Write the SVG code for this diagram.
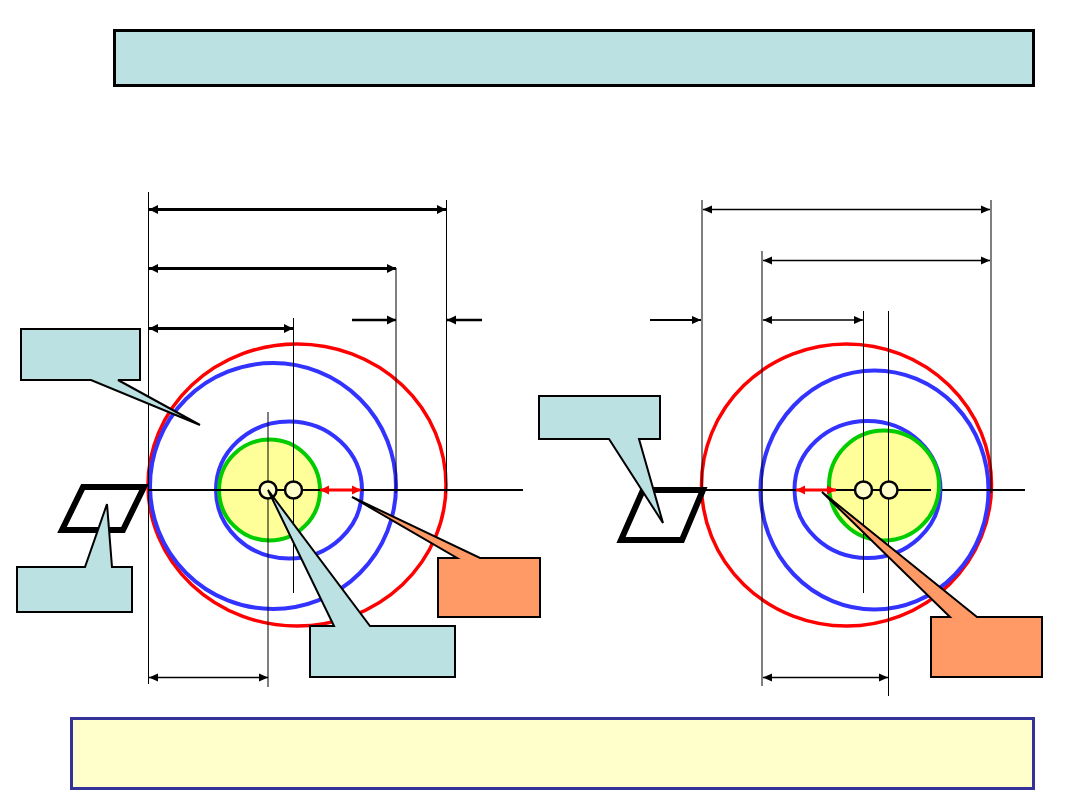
<svg xmlns="http://www.w3.org/2000/svg" width="1080" height="810" viewBox="0 0 1080 810">
<style>
.thin{stroke:#000;stroke-width:1;fill:none}
.dimT{stroke:#000;stroke-width:3;fill:none;marker-start:url(#ahT);marker-end:url(#ahT)}
.dimN{stroke:#000;stroke-width:1.5;fill:none;marker-start:url(#ahN);marker-end:url(#ahN)}
.axis{stroke:#000;stroke-width:2;fill:none}
.red{stroke:#FF0000;stroke-width:3.5;fill:none}
.blue{stroke:#3333FF;stroke-width:4;fill:none}
.core{stroke:#00CC00;stroke-width:4;fill:#FFFF99}
.hole{stroke:#000;stroke-width:2.5;fill:#FFFFCC}
.par{stroke:#000;stroke-width:6;fill:#FFFFFF;stroke-linejoin:miter}
.cb{stroke:#000;stroke-width:2;fill:#BCE1E2;stroke-linejoin:miter}
.co{stroke:#000;stroke-width:2;fill:#FF9966;stroke-linejoin:miter}
.gap{stroke:#FF0000;stroke-width:3;fill:none;marker-start:url(#ahR);marker-end:url(#ahR)}
</style>
<defs>
<marker id="ahT" markerUnits="userSpaceOnUse" markerWidth="10" markerHeight="10" refX="9" refY="5" orient="auto-start-reverse"><path d="M0,0.5 L9,5 L0,9.5 Z" fill="#000"/></marker>
<marker id="ahN" markerUnits="userSpaceOnUse" markerWidth="10" markerHeight="10" refX="9" refY="5" orient="auto-start-reverse"><path d="M0,1 L9,5 L0,9 Z" fill="#000"/></marker>
<marker id="ahR" markerUnits="userSpaceOnUse" markerWidth="10" markerHeight="10" refX="9" refY="5" orient="auto-start-reverse"><path d="M0,0.5 L9,5 L0,9.5 Z" fill="#FF0000"/></marker>
</defs>
<rect width="1080" height="810" fill="#FFFFFF"/>

<g id="title"><rect x="114.5" y="30.5" width="919" height="55" fill="#BCE1E2" stroke="#000" stroke-width="3"/></g>
<g id="footer"><rect x="71.5" y="718.5" width="962" height="70" fill="#FFFFCC" stroke="#333399" stroke-width="3"/></g>

<g id="left-rings">
<ellipse class="red" cx="297" cy="485" rx="149" ry="141"/>
<ellipse class="blue" cx="273" cy="486" rx="123" ry="123"/>
<ellipse class="blue" cx="289" cy="490" rx="73" ry="68.5"/>
<circle class="core" cx="269.5" cy="490" r="50.5"/>
</g>
<g id="right-rings">
<ellipse class="red" cx="846.5" cy="485" rx="145" ry="141"/>
<ellipse class="blue" cx="874.5" cy="490" rx="114" ry="119.5"/>
<ellipse class="blue" cx="867.5" cy="489.5" rx="73" ry="68.5"/>
<circle class="core" cx="884" cy="485.5" r="55"/>
</g>

<g id="connectors">
<line class="thin" x1="148.5" y1="192" x2="148.5" y2="684"/>
<line class="thin" x1="446.5" y1="200" x2="446.5" y2="493"/>
<line class="thin" x1="396" y1="268" x2="396" y2="493"/>
<line class="thin" x1="293.5" y1="318" x2="293.5" y2="593"/>
<line class="thin" x1="268" y1="412" x2="268" y2="687"/>
<line class="axis" x1="148" y1="490" x2="523" y2="490"/>
<line class="dimT" x1="149" y1="209.5" x2="446" y2="209.5"/>
<line class="dimT" x1="149" y1="268.5" x2="396" y2="268.5"/>
<line class="dimT" x1="149" y1="328.5" x2="293" y2="328.5"/>
<line stroke="#000" stroke-width="2.5" x1="352" y1="320" x2="396" y2="320" marker-end="url(#ahT)"/>
<line stroke="#000" stroke-width="2.5" x1="482" y1="320" x2="447" y2="320" marker-end="url(#ahT)"/>
<line class="dimN" x1="149" y1="677.5" x2="268" y2="677.5"/>
<line class="gap" x1="320" y1="490" x2="361" y2="490"/>

<line class="thin" x1="702" y1="200" x2="702" y2="493"/>
<line class="thin" x1="991" y1="200" x2="991" y2="493"/>
<line class="thin" x1="762" y1="251" x2="762" y2="686"/>
<line class="thin" x1="863.5" y1="311" x2="863.5" y2="593"/>
<line class="thin" x1="888.5" y1="311" x2="888.5" y2="696"/>
<line class="axis" x1="702" y1="490" x2="931" y2="490"/>
<line class="axis" x1="942" y1="490" x2="1025" y2="490"/>
<line class="dimN" x1="703" y1="209.5" x2="990" y2="209.5"/>
<line class="dimN" x1="763" y1="260.5" x2="990" y2="260.5"/>
<line class="dimN" x1="763" y1="320" x2="863" y2="320"/>
<line stroke="#000" stroke-width="2" x1="650" y1="320" x2="701" y2="320" marker-end="url(#ahN)"/>
<line class="dimN" x1="763" y1="677.5" x2="888" y2="677.5"/>
<line class="gap" x1="796" y1="490" x2="836" y2="490"/>
</g>

<g id="left-holes">
<circle class="hole" cx="268" cy="490" r="8.5"/>
<circle class="hole" cx="293.5" cy="490" r="8.5"/>
</g>
<g id="right-holes">
<circle class="hole" cx="863.5" cy="490" r="8.5"/>
<circle class="hole" cx="889" cy="490" r="8.5"/>
</g>

<g id="left-frame"><polygon class="par" points="83,487 144,487 123,530 62,530"/></g>
<g id="right-frame"><polygon class="par" points="643,490 703,490 682,540 621,540"/></g>

<g id="callout-left-top"><path class="cb" d="M21,329 H140 V380 H118 L200,425 L91,380 H21 Z"/></g>
<g id="callout-left-bottom"><path class="cb" d="M17,567 H85 L107,504 L112,567 H132 V612 H17 Z"/></g>
<g id="callout-left-center"><path class="cb" d="M310,626 H334 L268,490 L370,626 H455 V677 H310 Z"/></g>
<g id="callout-left-orange"><path class="co" d="M438,558 H457 L352,497 L480,558 H540 V617 H438 Z"/></g>
<g id="callout-right-top"><path class="cb" d="M539,396 H660 V439 H639 L663,523 L609,439 H539 Z"/></g>
<g id="callout-right-orange"><path class="co" d="M931,617 H950 L822,492 L977,617 H1042 V677 H931 Z"/></g>
</svg>
